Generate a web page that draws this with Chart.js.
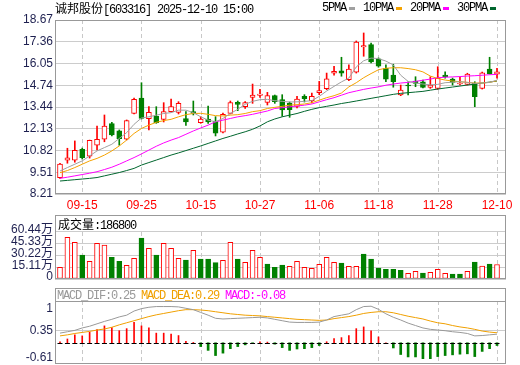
<!DOCTYPE html>
<html>
<head>
<meta charset="utf-8">
<script src="https://cdn.jsdelivr.net/npm/chart.js@4.4.1/dist/chart.umd.min.js"></script>
<style>
  body { margin: 0; background: #fff; }
  #wrap { position: relative; width: 520px; height: 365px; overflow: hidden; }
  canvas { position: absolute; left: 0; top: 0; }
  .txt { position: absolute; font-family: "Liberation Mono", monospace; font-size: 12px; letter-spacing: -1.2px;
         line-height: 12px; white-space: pre; color: #000; }
  .cjk { font-family: "Noto Sans CJK SC", sans-serif; letter-spacing: 0; }
  #legend { display: flex; align-items: center; }
  .dash { width: 6px; height: 3px; margin: 0 8px 0 3px; }
</style>
</head>
<body>
<div id="wrap">
  <canvas id="price" width="520" height="365"></canvas>
  <canvas id="vol" width="520" height="365"></canvas>
  <canvas id="macd" width="520" height="365"></canvas>
  <div class="txt" id="title" style="left:55px;top:2px"></div>
  <div class="txt" id="legend" style="left:322px;top:2px"></div>
  <div class="txt" id="volHead" style="left:58px;top:218px"></div>
  <div class="txt" id="macdHead" style="left:57px;top:290px"></div>
</div>
<script>
// stock + time shown in the header
const stockName = '诚邦股份';
const stockCode = '603316';
const stamp = '2025-12-10 15:00';

// trading days shown on the chart
const dates = [
  '09-10','09-11','09-12','09-15','09-16','09-17','09-18','09-19','09-22','09-23',
  '09-24','09-25','09-26','09-29','09-30','10-09','10-10','10-13','10-14','10-15',
  '10-16','10-17','10-20','10-21','10-22','10-23','10-24','10-27','10-28','10-29',
  '10-30','10-31','11-03','11-04','11-05','11-06','11-07','11-10','11-11','11-12',
  '11-13','11-14','11-17','11-18','11-19','11-20','11-21','11-24','11-25','11-26',
  '11-27','11-28','12-01','12-02','12-03','12-04','12-05','12-08','12-09','12-10'
];
const tickDates = ['09-15','09-25','10-15','10-27','11-06','11-18','11-28','12-10'];

// daily prices
const open = [
  9.19,10.24,10.25,10.90,10.49,11.14,11.50,12.44,12.00,11.50,
  13.06,13.98,12.74,12.90,12.70,13.16,13.12,12.74,13.16,12.50,
  12.72,12.60,11.92,13.06,13.72,13.46,14.02,14.14,13.72,14.12,
  13.88,13.68,13.48,14.08,13.82,14.30,14.54,15.47,15.62,15.08,
  15.54,17.05,17.19,16.34,15.77,15.36,14.16,14.76,15.00,14.96,
  14.62,14.56,15.36,15.12,14.82,14.80,14.86,14.56,15.72,15.42
];
const high = [
  10.05,10.96,11.40,10.97,11.45,12.30,12.96,12.52,12.06,12.66,
  13.98,14.90,13.46,13.46,13.70,13.92,13.76,13.16,13.80,12.86,
  13.50,12.86,13.08,13.80,13.80,13.76,14.82,14.50,14.32,14.16,
  14.18,13.74,14.08,14.18,14.28,14.98,15.48,15.89,16.43,15.98,
  17.41,17.89,17.29,16.39,15.97,16.01,14.76,14.96,15.26,15.06,
  15.26,15.86,15.56,15.18,15.24,15.47,14.96,15.54,16.43,15.77
];
const low = [
  9.15,10.06,10.12,10.31,10.37,10.86,11.35,11.70,11.14,11.46,
  13.02,12.72,12.06,12.46,12.54,13.14,13.02,12.34,12.96,12.46,
  12.46,11.70,11.88,13.02,13.22,13.36,13.66,14.02,13.56,13.66,
  12.88,12.82,13.38,13.74,13.68,14.18,14.48,15.35,15.29,15.02,
  15.48,16.49,16.09,15.83,14.96,14.63,14.12,14.16,14.66,14.58,
  14.56,14.50,15.17,14.76,14.76,14.76,13.46,14.52,15.42,15.17
];
const close = [
  10.01,10.38,10.84,10.39,11.43,11.50,12.30,11.76,11.54,12.62,
  13.90,12.76,13.12,12.50,13.16,13.46,13.66,12.54,13.06,12.72,
  12.54,11.86,13.00,13.70,13.60,13.70,14.16,14.22,14.12,13.76,
  13.26,13.28,13.92,13.94,14.08,14.42,15.14,15.59,15.47,15.72,
  17.35,17.13,16.15,15.89,15.12,14.96,14.46,14.70,14.86,14.62,
  14.76,15.16,15.26,14.92,14.88,15.42,14.06,15.50,15.45,15.56
];

// moving averages
const ma5 = [
  9.59,9.80,10.00,10.20,10.50,10.80,11.00,11.20,11.55,11.90,
  12.40,12.78,12.85,12.95,13.05,13.10,13.25,13.25,13.10,12.85,
  12.65,12.55,12.75,13.05,13.30,13.60,13.78,13.88,13.90,13.82,
  13.78,13.74,13.75,13.78,13.82,14.08,14.40,14.68,14.95,15.18,
  15.85,16.22,16.38,16.35,16.20,15.97,15.35,14.98,14.88,14.82,
  14.77,14.80,14.90,14.93,14.96,14.92,14.86,14.88,14.92,15.06
];
const ma10 = [
  9.49,9.62,9.80,10.00,10.20,10.35,10.55,10.80,11.10,11.45,
  11.85,12.15,12.35,12.52,12.62,12.70,12.85,12.98,13.05,13.06,
  13.00,12.92,12.90,12.95,12.98,13.05,13.16,13.22,13.35,13.42,
  13.48,13.55,13.58,13.62,13.70,13.85,14.00,14.12,14.28,14.65,
  14.90,15.20,15.45,15.68,15.77,15.80,15.80,15.75,15.68,15.55,
  15.30,15.15,15.06,15.00,14.96,14.92,14.88,14.88,14.92,15.02
];
const ma20 = [
  9.15,9.22,9.30,9.38,9.46,9.55,9.68,9.82,10.00,10.20,
  10.40,10.62,10.85,11.08,11.28,11.45,11.60,11.80,12.00,12.18,
  12.35,12.55,12.65,12.75,12.85,12.92,13.00,13.10,13.20,13.35,
  13.40,13.45,13.50,13.55,13.62,13.75,13.88,14.00,14.15,14.30,
  14.40,14.50,14.58,14.65,14.75,14.82,14.88,14.92,14.98,15.05,
  15.12,15.20,15.23,15.25,15.27,15.30,15.32,15.35,15.38,15.40
];
const ma30 = [
  8.99,9.03,9.07,9.11,9.15,9.20,9.30,9.40,9.50,9.62,
  9.75,9.95,10.10,10.25,10.40,10.55,10.68,10.82,10.96,11.10,
  11.25,11.40,11.55,11.68,11.82,11.95,12.10,12.30,12.55,12.72,
  12.85,12.95,13.05,13.18,13.30,13.40,13.48,13.56,13.65,13.72,
  13.80,13.88,13.96,14.04,14.12,14.20,14.26,14.30,14.34,14.38,
  14.45,14.52,14.58,14.64,14.70,14.76,14.82,14.88,14.94,15.00
];

// volume, in 万 shares
const volume = [
  15.0,53.6,47.2,30.9,22.7,45.9,43.7,27.9,22.7,17.6,
  26.6,52.7,39.5,30.9,45.9,39.5,26.6,24.4,36.9,25.7,
  25.7,21.0,24.0,47.2,25.7,21.4,36.9,27.9,19.3,15.0,
  18.0,16.3,22.7,15.0,13.8,18.9,27.9,21.4,20.6,16.3,
  16.3,32.2,25.7,14.1,12.4,12.4,11.2,7.3,9.9,7.7,
  8.6,12.4,7.3,6.4,6.4,9.9,21.9,16.7,19.3,18.68
];

// MACD
const dif = [
  0.28,0.32,0.36,0.43,0.48,0.55,0.62,0.68,0.75,0.80,
  0.92,0.99,1.03,1.05,1.05,1.05,1.04,1.00,0.96,0.88,
  0.80,0.71,0.69,0.70,0.71,0.72,0.73,0.74,0.72,0.68,
  0.64,0.60,0.59,0.59,0.59,0.60,0.66,0.76,0.80,0.84,
  0.96,1.05,1.06,0.97,0.84,0.74,0.66,0.57,0.50,0.43,
  0.39,0.37,0.35,0.32,0.30,0.27,0.20,0.21,0.23,0.25
];
const dea = [
  0.20,0.23,0.27,0.30,0.33,0.37,0.40,0.45,0.52,0.58,
  0.64,0.70,0.76,0.81,0.85,0.89,0.93,0.96,0.96,0.95,
  0.93,0.90,0.87,0.84,0.82,0.80,0.79,0.78,0.76,0.74,
  0.72,0.70,0.68,0.67,0.66,0.65,0.66,0.70,0.73,0.76,
  0.80,0.85,0.88,0.90,0.90,0.87,0.82,0.77,0.73,0.69,
  0.63,0.58,0.55,0.50,0.46,0.43,0.39,0.34,0.31,0.29
];
const macd = [
  0.03,0.11,0.23,0.20,0.31,0.38,0.49,0.44,0.35,0.41,
  0.59,0.49,0.43,0.28,0.28,0.25,0.21,0.04,0.01,-0.11,
  -0.22,-0.37,-0.30,-0.17,-0.11,-0.06,-0.01,0.03,0.02,-0.04,
  -0.14,-0.22,-0.18,-0.17,-0.14,-0.08,0.03,0.12,0.15,0.21,
  0.41,0.46,0.35,0.17,0.00,-0.15,-0.34,-0.41,-0.41,-0.46,
  -0.46,-0.40,-0.37,-0.35,-0.33,-0.32,-0.40,-0.25,-0.17,-0.08
];

// axis tick labels
const priceTicks = [8.21, 9.51, 10.82, 12.13, 13.44, 14.74, 16.05, 17.36, 18.67];
const volTicks = [0, 15.11, 30.22, 45.33, 60.44];
const macdTicks = [-0.61, 0.35, 1];

const maNames = ['5PMA', '10PMA', '20PMA', '30PMA'];
const maColors = ['#a0a0a0', '#f5a300', '#ff00ff', '#00662e'];

const RED = '#ff0000';
const GREEN = '#008000';
const NAVY = '#1e2050';
const tickIdx = tickDates.map(d => dates.indexOf(d));
const xy = arr => arr.map((v, i) => ({ x: i, y: v }));

// header texts
document.getElementById('title').innerHTML =
  `<span class="cjk">${stockName}</span>[${stockCode}] ${stamp}`;
document.getElementById('legend').innerHTML = maNames
  .map((n, i) => `<span>${n}</span><span class="dash" style="background:${maColors[i]}"></span>`)
  .join('');
document.getElementById('volHead').innerHTML =
  `<span class="cjk">成交量</span>:${Math.round(volume[volume.length - 1] * 10000)}`;
const last = dif.length - 1;
document.getElementById('macdHead').innerHTML =
  `<span style="color:#999">MACD_DIF:${dif[last].toFixed(2)}</span> ` +
  `<span style="color:#f0a000">MACD_DEA:${dea[last].toFixed(2)}</span> ` +
  `<span style="color:#ff00ff">MACD:${macd[last].toFixed(2)}</span>`;

// dashed date lines + grey panel box
const frame = {
  id: 'frame',
  beforeDatasetsDraw(chart, args, opts) {
    const { ctx, chartArea: a, scales: { x } } = chart;
    ctx.save();
    ctx.strokeStyle = '#c8c8c8';
    ctx.lineWidth = 1;
    ctx.setLineDash([4, 3]);
    tickIdx.forEach(i => {
      const px = Math.round(x.getPixelForValue(i)) + 0.5;
      ctx.beginPath();
      ctx.moveTo(px, a.top + opts.gridTop);
      ctx.lineTo(px, a.bottom);
      ctx.stroke();
    });
    ctx.restore();
  },
  afterDraw(chart, args, opts) {
    const { ctx, chartArea: a } = chart;
    ctx.save();
    ctx.strokeStyle = '#999';
    ctx.lineWidth = 1;
    const l = Math.round(a.left) + 0.5, r = Math.round(a.right) - 0.5;
    const t = Math.round(a.top) + 0.5, b = Math.round(a.bottom) - 0.5;
    ctx.strokeRect(l, t, r - l, b - t);
    if (opts.sep) {
      ctx.beginPath();
      ctx.moveTo(l, t + opts.sep);
      ctx.lineTo(r, t + opts.sep);
      ctx.stroke();
    }
    ctx.restore();
  }
};

// zero dashes and y labels for the MACD panel
const macdExtras = {
  id: 'macdExtras',
  afterDatasetsDraw(chart) {
    const { ctx, scales: { x, y } } = chart;
    const y0 = Math.round(y.getPixelForValue(0)) + 0.5;
    ctx.save();
    ctx.strokeStyle = '#000';
    ctx.lineWidth = 1;
    dates.forEach((d, i) => {
      const px = x.getPixelForValue(i);
      ctx.beginPath();
      ctx.moveTo(px - 2.5, y0);
      ctx.lineTo(px + 2.5, y0);
      ctx.stroke();
    });
    ctx.restore();
  },
  afterDraw(chart) {
    const { ctx, chartArea: a, scales: { y } } = chart;
    ctx.save();
    ctx.font = '12px "Liberation Sans", sans-serif';
    ctx.fillStyle = NAVY;
    ctx.textAlign = 'right';
    ctx.textBaseline = 'middle';
    macdTicks.forEach(v => {
      const py = Math.min(Math.max(y.getPixelForValue(v), a.top + 18), a.bottom - 6);
      ctx.fillText(String(v), a.left - 2, py);
    });
    ctx.restore();
  }
};

const xBase = { type: 'linear', min: -0.675, max: 60.215, offset: false };
const tickFont = { family: '"Liberation Sans", "Noto Sans CJK SC", sans-serif', size: 12 };
const base = {
  responsive: false,
  animation: false,
  devicePixelRatio: 1,
  events: []
};
const yWidth = s => { s.width = 55; };
const line = (arr, color) => ({
  type: 'line', data: xy(arr), borderColor: color, borderWidth: 1,
  pointRadius: 0, tension: 0, fill: false
});

// candles
const up = close.map((c, i) => c >= open[i]);
const candleColor = up.map(u => u ? RED : GREEN);
const bodies = open.map((o, i) => ({ x: i, y: [Math.min(o, close[i]), Math.max(o, close[i])] }));
const wicks = low.map((l, i) => ({ x: i, y: [l, high[i]] }));

new Chart(document.getElementById('price'), {
  type: 'bar',
  data: {
    datasets: [
      line(ma5, maColors[0]), line(ma10, maColors[1]), line(ma20, maColors[2]), line(ma30, maColors[3]),
      {
        data: bodies, backgroundColor: up.map(u => u ? '#fff' : GREEN), borderColor: candleColor,
        borderWidth: 1, borderSkipped: false, barThickness: 5, grouped: false, minBarLength: 1
      },
      { data: wicks, backgroundColor: candleColor, borderWidth: 0, barThickness: 1, grouped: false }
    ]
  },
  options: {
    ...base,
    layout: { padding: { top: 20, right: 14, bottom: 153, left: 0 } },
    plugins: { legend: { display: false }, tooltip: { enabled: false }, frame: { gridTop: 0 } },
    scales: {
      x: {
        ...xBase,
        grid: { display: false, drawTicks: false },
        border: { display: false },
        ticks: {
          color: RED, font: tickFont, padding: 4, autoSkip: false, maxRotation: 0,
          callback: v => dates[v]
        },
        afterBuildTicks: s => { s.ticks = tickIdx.map(v => ({ value: v })); },
        afterFit: s => { s.height = 18; }
      },
      y: {
        min: priceTicks[0], max: priceTicks[priceTicks.length - 1],
        grid: { color: '#cccccc', drawTicks: false },
        border: { display: false },
        ticks: { color: NAVY, font: tickFont, padding: 2, autoSkip: false, callback: v => v.toFixed(2) },
        afterBuildTicks: s => { s.ticks = priceTicks.map(v => ({ value: v })); },
        afterFit: yWidth
      }
    }
  },
  plugins: [frame]
});

// volume colour follows close vs previous close
const volUp = close.map((c, i) => i === 0 || c >= close[i - 1]);

new Chart(document.getElementById('vol'), {
  type: 'bar',
  data: {
    datasets: [{
      data: xy(volume),
      backgroundColor: volUp.map(u => u ? '#fff' : GREEN),
      borderColor: volUp.map(u => u ? RED : GREEN),
      borderWidth: 1, borderSkipped: false, barThickness: 5
    }]
  },
  options: {
    ...base,
    layout: { padding: { top: 215, right: 14, bottom: 86, left: 0 } },
    plugins: { legend: { display: false }, tooltip: { enabled: false }, frame: { gridTop: 17 } },
    scales: {
      x: { ...xBase, display: false },
      y: {
        min: 0, max: 82.3,
        grid: { color: '#cccccc', drawTicks: false },
        border: { display: false },
        ticks: {
          color: NAVY, font: tickFont, padding: 2, labelOffset: -2, autoSkip: false,
          callback: v => v === 0 ? '0' : v.toFixed(2) + '万'
        },
        afterBuildTicks: s => { s.ticks = volTicks.map(v => ({ value: v })); },
        afterFit: yWidth
      }
    }
  },
  plugins: [frame]
});

new Chart(document.getElementById('macd'), {
  type: 'bar',
  data: {
    datasets: [
      line(dif, '#999999'),
      line(dea, '#f0a000'),
      { data: xy(macd.map(v => v >= 0 ? v : null)), backgroundColor: RED, barThickness: 1, grouped: false },
      { data: xy(macd.map(v => v < 0 ? v : null)), backgroundColor: GREEN, barThickness: 2, grouped: false }
    ]
  },
  options: {
    ...base,
    layout: { padding: { top: 288, right: 14, bottom: 1, left: 0 } },
    plugins: { legend: { display: false }, tooltip: { enabled: false }, frame: { gridTop: 13, sep: 13 } },
    scales: {
      x: { ...xBase, display: false },
      y: {
        min: -0.615, max: 1.588,
        grid: {
          color: c => c.tick && c.tick.value === 0.35 ? '#cccccc' : 'rgba(0,0,0,0)',
          drawTicks: false
        },
        border: { display: false },
        ticks: { display: false },
        afterBuildTicks: s => { s.ticks = macdTicks.map(v => ({ value: v })); },
        afterFit: yWidth
      }
    }
  },
  plugins: [frame, macdExtras]
});
</script>
</body>
</html>
